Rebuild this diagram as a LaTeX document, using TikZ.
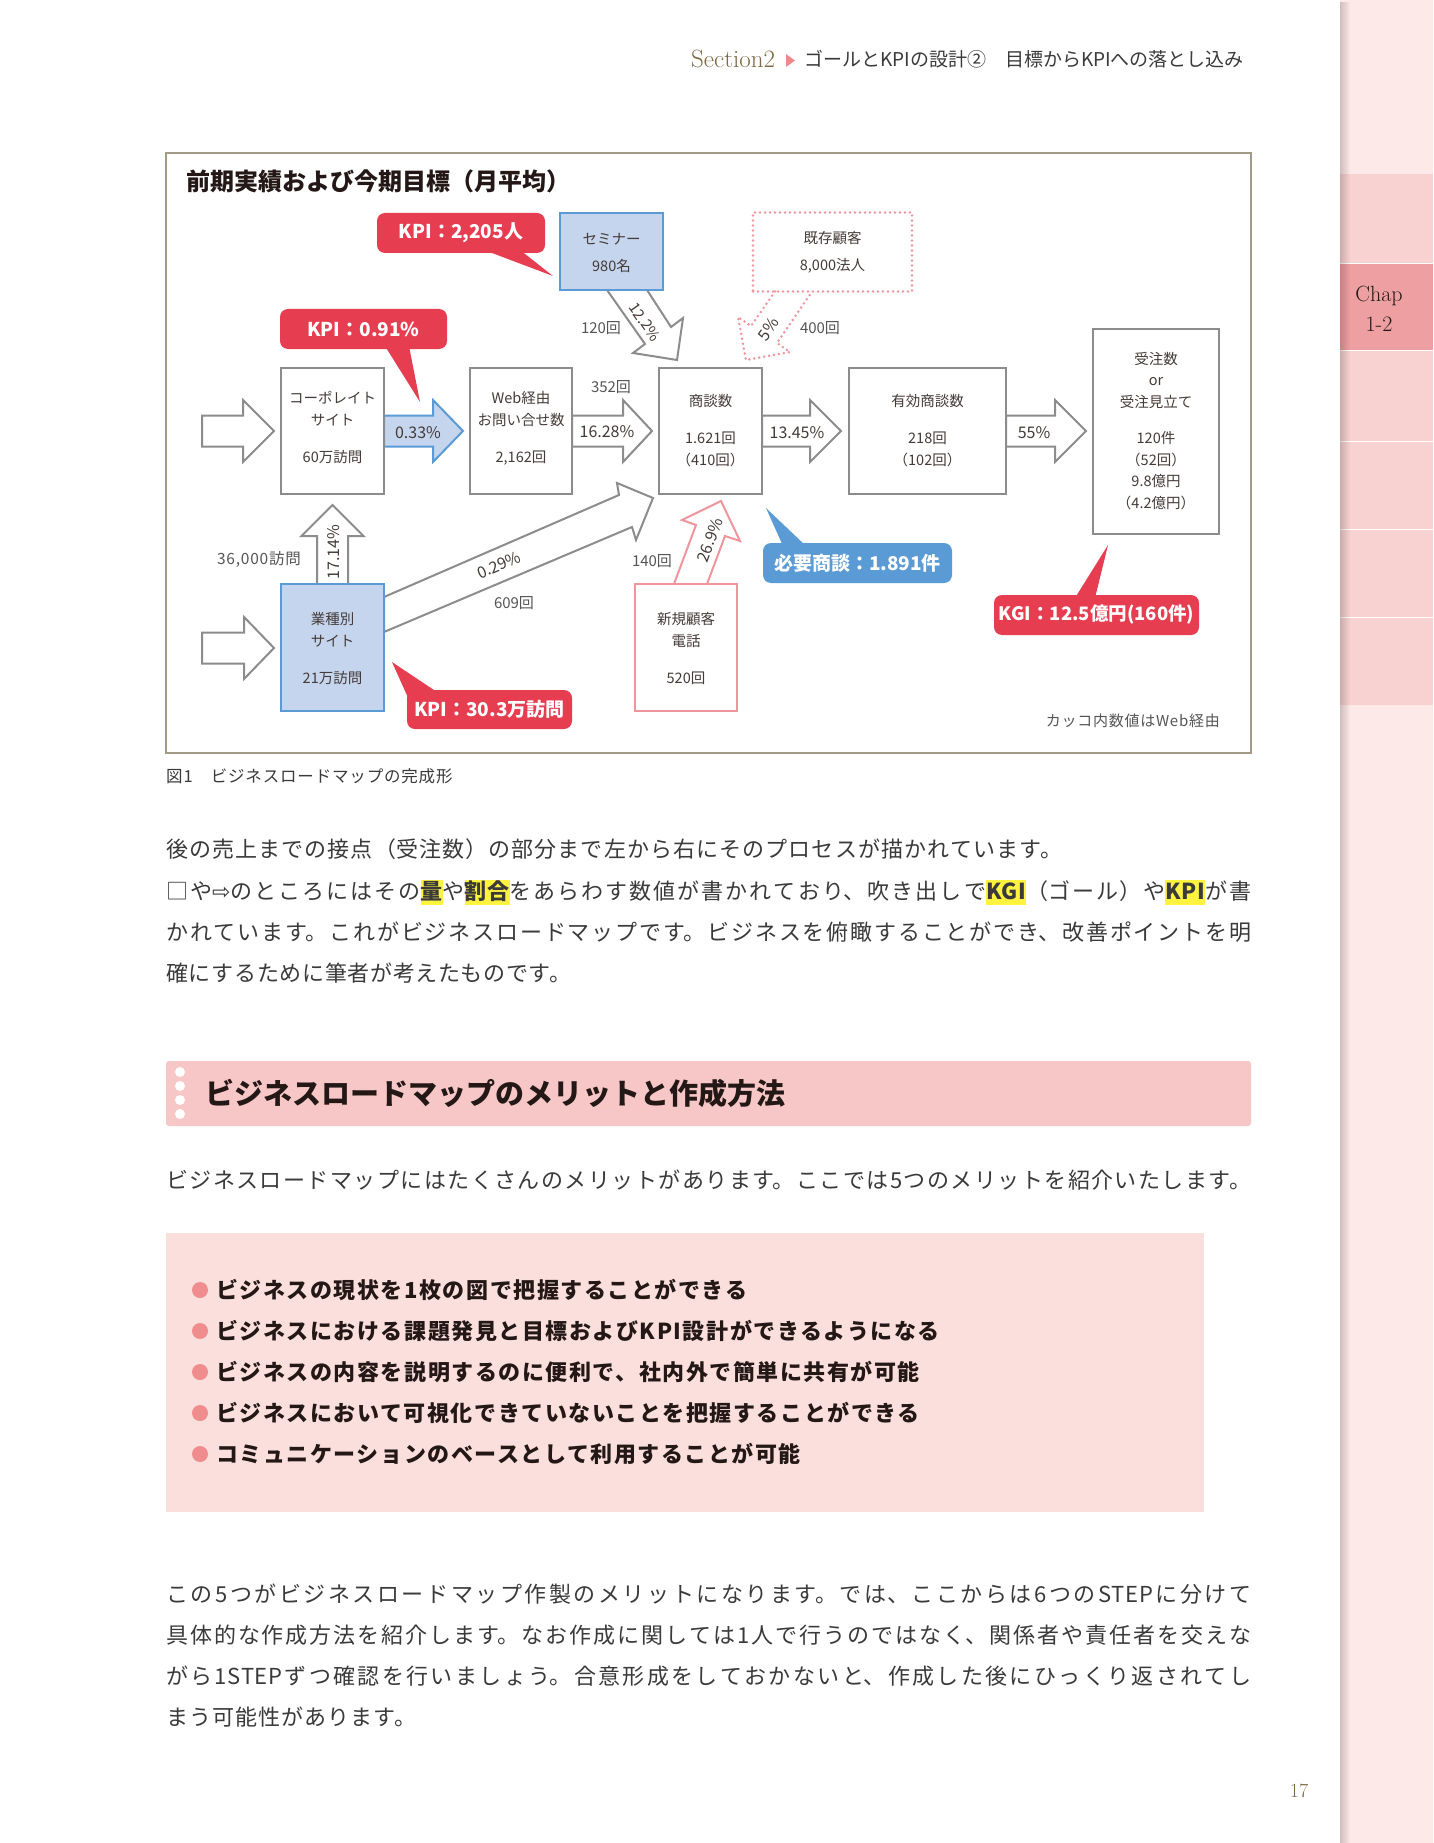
\documentclass[tikz,border=0pt]{standalone}
\usepackage{fontspec}
\usetikzlibrary{calc,fadings}
\newfontfamily\jp{Noto Sans CJK JP}
\newfontfamily\jpb{Noto Sans CJK JP}[LetterSpace=3]
\newfontfamily\jpbul{Noto Sans CJK JP}[LetterSpace=7]
\newfontfamily\jpsp{Noto Sans CJK JP}[LetterSpace=5]
\newfontfamily\djv{DejaVu Sans}
\XeTeXlinebreaklocale "ja"
\XeTeXlinebreakskip=0pt plus 4pt
\pgfdeclarelayer{back}
\pgfdeclarelayer{bg}
\pgfsetlayers{back,bg,main}
\definecolor{boxgray}{HTML}{8C8C8C}
\definecolor{arrgray}{HTML}{8C8C8C}
\definecolor{semfill}{HTML}{C5D5EE}
\definecolor{semdraw}{HTML}{5B9BD5}
\definecolor{pinkline}{HTML}{F0959B}
\definecolor{calred}{HTML}{E63D50}
\definecolor{calblue}{HTML}{5B9BD5}
\definecolor{darktext}{HTML}{231815}
\definecolor{bodytext}{HTML}{3A3A3A}
\definecolor{lblgray}{HTML}{555555}
\definecolor{framec}{HTML}{A39A86}
\definecolor{secbrown}{HTML}{7D6944}
\definecolor{secpink}{HTML}{EE8A8E}
\definecolor{sidebg}{HTML}{FDE9E7}
\definecolor{tabc}{HTML}{F8D2D1}
\definecolor{tabact}{HTML}{EE9FA1}
\definecolor{headbar}{HTML}{F6C7C6}
\definecolor{bulletbg}{HTML}{FBDFDD}
\definecolor{bulletc}{HTML}{EE8C8E}
\definecolor{hly}{HTML}{FFF33F}
\newcommand{\bodyfont}{\jpb\fontsize{22}{30}\selectfont\color{bodytext}}
\newcommand{\jline}[1]{\parbox[b]{1085pt}{\bodyfont\parfillskip=0pt\relax #1\par}}
\newcommand{\jlinew}[2]{\parbox[b]{#1}{\bodyfont\parfillskip=0pt\relax #2\par}}
\newcommand{\hlt}[1]{{\setlength{\fboxsep}{0pt}\colorbox{hly}{\bfseries\rule[-6pt]{0pt}{25pt}#1}}}
\newcommand{\hArr}[4]{\draw[#1] ($(#2)+(0,-15.5)$) -- ++(#3,0) -- ++(0,-15.5) -- ++(#4,31) -- ++(-#4,31) -- ++(0,-15.5) -- ++(-#3,0) -- cycle;}
\tikzset{
 gbox/.style={draw=boxgray, line width=2.5pt, fill=white, inner sep=0pt, outer sep=0pt},
 bbox/.style={draw=semdraw, line width=2.5pt, fill=semfill, inner sep=0pt, outer sep=0pt},
 pbox/.style={draw=pinkline, line width=2.5pt, fill=white, inner sep=0pt, outer sep=0pt},
 dbox/.style={draw=pinkline, line width=2.8pt, dash pattern=on 0pt off 5pt, line cap=round, inner sep=0pt, outer sep=0pt},
 btext/.style={font=\jp\fontsize{14.5}{22}\selectfont, text=darktext!85, align=center, inner sep=0pt},
 garr/.style={draw=arrgray, line width=2pt, fill=white, line join=miter},
 blarr/.style={draw=semdraw, line width=2pt, fill=semfill, line join=miter},
 parr/.style={draw=pinkline, line width=2pt, fill=white, line join=miter},
 darr/.style={draw=pinkline, line width=2.8pt, dash pattern=on 0pt off 5pt, line cap=round},
 lbl/.style={font=\jp\fontsize{15}{15}\selectfont, text=lblgray, inner sep=0pt},
 vlbl/.style={font=\jp\fontsize{16}{16}\selectfont, text=darktext!85, inner sep=0pt},
 callout/.style={rounded corners=8pt, inner sep=0pt, text=white, font=\jp\bfseries\fontsize{19}{19}\selectfont},
 bodyline/.style={anchor=base west, inner sep=0pt},
 bullettext/.style={anchor=base west, inner sep=0pt, text=darktext, font=\jpbul\bfseries\fontsize{22}{22}\selectfont},
}
\begin{document}
\begin{tikzpicture}[x=1pt,y=-1pt,font=\jp]
\useasboundingbox (0,0) rectangle (1433,1843);
\begin{pgfonlayer}{back}
\fill[white] (0,0) rectangle (1433,1843);
\end{pgfonlayer}
% sidebar
\fill[sidebg] (1340,0) rectangle (1433,1843);
\fill[tabc] (1340,174) rectangle (1433,264);
\fill[tabact] (1340,264) rectangle (1433,350);
\fill[tabc] (1340,350) rectangle (1433,705);
\foreach \yy in {264,350,441,529,617} \draw[white, line width=1pt] (1340,\yy) -- (1433,\yy);
\fill[black, opacity=0.18, path fading=east] (1340,0) rectangle (1350,1843);
\node[font=\rmfamily\fontsize{22}{30}\selectfont, text=darktext, align=center, inner sep=0pt] (chap) at (1379,309) {Chap\\1-2};
% header
\node[anchor=base west, inner sep=0pt, font=\rmfamily\fontsize{25}{25}\selectfont, text=secbrown] (sec) at (691,68) {Section2};
\fill[secpink] (786,54) -- (795,60.5) -- (786,67) -- cycle;
\node[anchor=base west, inner sep=0pt, font=\jp\fontsize{19}{19}\selectfont, text=bodytext] (hdr) at (804,67) {ゴールとKPIの設計②　目標からKPIへの落とし込み};
\node[font=\rmfamily\fontsize{20}{20}\selectfont, text=secbrown, inner sep=0pt] (pg) at (1299,1791) {17};
% figure frame
\draw[framec, line width=1.5pt] (166,153) rectangle (1251,753);
\node[anchor=base west, inner sep=0pt, font=\jp\bfseries\fontsize{24}{24}\selectfont, text=darktext] (title) at (186,191) {前期実績および今期目標（月平均）};
% boxes
\node[gbox, minimum width=103pt, minimum height=126pt] (corp) at (332.5,431) {};
\node[gbox, minimum width=102pt, minimum height=126pt] (web) at (521,431) {};
\node[gbox, minimum width=103pt, minimum height=126pt] (shodan) at (710.5,431) {};
\node[gbox, minimum width=157pt, minimum height=126pt] (yuko) at (927.5,431) {};
\node[gbox, minimum width=126pt, minimum height=205pt] (juchu) at (1156,431.5) {};
\node[bbox, minimum width=103pt, minimum height=77pt] (seminar) at (611.5,251.5) {};
\node[dbox, minimum width=159pt, minimum height=79pt] (kison) at (832.5,252) {};
\node[bbox, minimum width=103pt, minimum height=127pt] (gyoshu) at (332.5,647.5) {};
\node[pbox, minimum width=102pt, minimum height=127pt] (shinki) at (686,647.5) {};
% box texts
\node[btext] (corpT) at (332.5,427.5) {コーポレイト\\サイト\\[15pt]60万訪問};
\node[btext] (webT) at (521,428.5) {Web経由\\お問い合せ数\\[15pt]2,162回};
\node[btext] (shodanT) at (710.5,430.5) {商談数\\[15pt]1.621回\\（410回）};
\node[btext] (yukoT) at (927.5,430.5) {有効商談数\\[15pt]218回\\（102回）};
\node[btext, font=\jp\fontsize{14.5}{21.5}\selectfont] (juchuT) at (1156,431) {受注数\\or\\受注見立て\\[15pt]120件\\（52回）\\9.8億円\\（4.2億円）};
\node[btext] (semT) at (611.5,252.5) {セミナー\\[5pt]980名};
\node[btext] (kisonT) at (832.5,252.5) {既存顧客\\[5pt]8,000法人};
\node[btext] (gyoT) at (332.5,648) {業種別\\サイト\\[15pt]21万訪問};
\node[btext] (shinT) at (686,648.5) {新規顧客\\電話\\[15pt]520回};
% arrows (layer behind the boxes)
\coordinate (in1) at (202,431);
\coordinate (in2) at (202,648);
\begin{pgfonlayer}{bg}
\hArr{garr}{in1}{41}{31}
\hArr{garr}{in2}{42}{30}
\hArr{blarr}{corp.east}{49}{30}
\hArr{garr}{web.east}{51}{29}
\hArr{garr}{shodan.east}{48}{31}
\hArr{garr}{yuko.east}{49}{31}
\draw[garr] ($(gyoshu.north)+(-15.5,0)$) -- ++(0,-48) -- ++(-15.5,0) -- ++(31,-31) -- ++(31,31) -- ++(-15.5,0) -- ++(0,48) -- cycle;
\draw[garr] ($(gyoshu.east)+(0,-50.5)$) -- (619,495) -- (617,483) -- (653,498) -- (636,540) -- (632,527) -- ($(gyoshu.east)+(0,-15.5)$) -- cycle;
\draw[garr] ($(seminar.south)+(-4.5,0)$) -- (645,344) -- (633,353) -- (677,360) -- (683,318) -- (671,327) -- ($(seminar.south)+(35.5,0)$) -- cycle;
\draw[parr] ($(shinki.north)+(-12,0)$) -- (696,525) -- (682,520) -- (721,501) -- (740,541) -- (725,536) -- ($(shinki.north)+(21,0)$) -- cycle;
\end{pgfonlayer}
\draw[darr] ($(kison.south)+(-57.5,0)$) -- (751,326) -- (738,317) -- (746,360) -- (790,352) -- (777,343) -- ($(kison.south)+(-20.5,0)$);
% arrow labels
\node[vlbl] (l033) at (418,433) {0.33\%};
\node[vlbl] (l1628) at (607,432) {16.28\%};
\node[lbl] (l352) at (611,387) {352回};
\node[vlbl] (l1345) at (797,433) {13.45\%};
\node[vlbl] (l55) at (1034,433) {55\%};
\node[lbl] (l120) at (601,328) {120回};
\node[vlbl, rotate=-55, font=\jp\fontsize{15}{15}\selectfont] (l122) at (645,322) {12.2\%};
\node[vlbl, rotate=55] (l5) at (768,329) {5\%};
\node[lbl] (l400) at (820,328) {400回};
\node[vlbl, rotate=90] (l1714) at (334,552) {17.14\%};
\node[lbl, font=\jpsp\fontsize{15.5}{15.5}\selectfont] (l36k) at (259,559) {36,000訪問};
\node[vlbl, rotate=23] (l029) at (499,565) {0.29\%};
\node[lbl] (l609) at (514,603) {609回};
\node[vlbl, rotate=70] (l269) at (710,540) {26.9\%};
\node[lbl] (l140) at (652,561) {140回};
% callouts
\node[callout, fill=calred, minimum width=168pt, minimum height=40pt] (kpiA) at (461,233) {KPI：2,205人};
\fill[calred] (484,250) -- (520,250) -- (553,276) -- cycle;
\node[callout, fill=calred, minimum width=167pt, minimum height=40pt] (kpiB) at (363.5,329) {KPI：0.91\%};
\fill[calred] (385,346) -- (409,346) -- (420,402) -- cycle;
\node[callout, fill=calred, minimum width=165pt, minimum height=39pt] (kpiC) at (489.5,709.5) {KPI：30.3万訪問};
\fill[calred] (392,662) -- (410,702) -- (437,692) -- cycle;
\node[callout, fill=calblue, minimum width=189pt, minimum height=40pt] (need) at (857.5,563) {必要商談：1.891件};
\fill[calblue] (766,508) -- (783,546) -- (806,546) -- cycle;
\node[callout, fill=calred, minimum width=205pt, minimum height=40pt, font=\jp\bfseries\fontsize{18.5}{18.5}\selectfont] (kgi) at (1096.5,615) {KGI：12.5億円(160件)};
\fill[calred] (1108,545) -- (1075,598) -- (1095,598) -- cycle;
\node[anchor=east, inner sep=0pt, font=\jpsp\fontsize{15}{15}\selectfont, text=lblgray] (note) at (1220,721) {カッコ内数値はWeb経由};
\node[anchor=west, inner sep=0pt, font=\jpsp\fontsize{16.5}{16.5}\selectfont, text=bodytext] (cap) at (166,776) {図1　ビジネスロードマップの完成形};
% paragraph 1
\node[bodyline] (p1a) at (166,857) {\jlinew{896pt}{後の売上までの接点（受注数）の部分まで左から右にそのプロセスが描かれています。}};
\node[bodyline] (p1b) at (166,899) {\jline{□や{\djv ⇨}のところにはその\hlt{量}や\hlt{割合}をあらわす数値が書かれており、吹き出しで\hlt{KGI}（ゴール）や\hlt{KPI}が書}};
\node[bodyline] (p1c) at (166,940) {\jline{かれています。これがビジネスロードマップです。ビジネスを俯瞰することができ、改善ポイントを明}};
\node[bodyline] (p1d) at (166,981) {\bodyfont 確にするために筆者が考えたものです。};
% heading bar
\fill[headbar, rounded corners=3pt] (166,1061) rectangle (1251,1126);
\foreach \yy in {1072,1086,1100,1114} \fill[white] (180,\yy) circle (5pt);
\node[anchor=base west, inner sep=0pt, font=\jp\bfseries\fontsize{29}{29}\selectfont, text=darktext] (head) at (205,1104) {ビジネスロードマップのメリットと作成方法};
% paragraph 2
\node[bodyline] (p2) at (166,1188) {\jline{ビジネスロードマップにはたくさんのメリットがあります。ここでは5つのメリットを紹介いたします。}};
% bullet box
\fill[bulletbg] (166,1233) rectangle (1204,1512);
\foreach \yy in {1290,1331,1372,1413,1454} \fill[bulletc] (200,\yy) circle (8pt);
\node[bullettext] (b1) at (216,1298) {ビジネスの現状を1枚の図で把握することができる};
\node[bullettext] (b2) at (216,1339) {ビジネスにおける課題発見と目標およびKPI設計ができるようになる};
\node[bullettext] (b3) at (216,1380) {ビジネスの内容を説明するのに便利で、社内外で簡単に共有が可能};
\node[bullettext] (b4) at (216,1421) {ビジネスにおいて可視化できていないことを把握することができる};
\node[bullettext] (b5) at (216,1462) {コミュニケーションのベースとして利用することが可能};
% paragraph 3
\node[bodyline] (p3a) at (166,1602) {\jline{この5つがビジネスロードマップ作製のメリットになります。では、ここからは6つのSTEPに分けて}};
\node[bodyline] (p3b) at (166,1643) {\jline{具体的な作成方法を紹介します。なお作成に関しては1人で行うのではなく、関係者や責任者を交えな}};
\node[bodyline] (p3c) at (166,1684) {\jline{がら1STEPずつ確認を行いましょう。合意形成をしておかないと、作成した後にひっくり返されてし}};
\node[bodyline] (p3d) at (166,1725) {\jlinew{250pt}{まう可能性があります。}};
\end{tikzpicture}
\end{document}
